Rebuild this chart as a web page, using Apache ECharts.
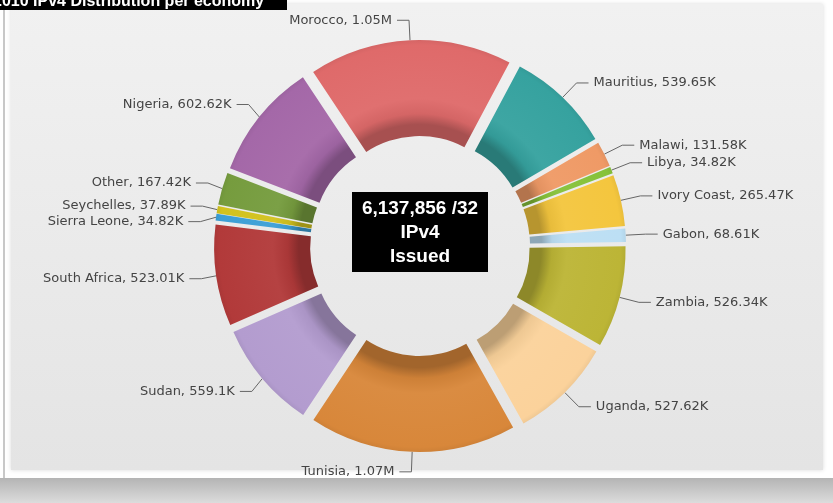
<!DOCTYPE html>
<html>
<head>
<meta charset="utf-8">
<script src="https://cdn.jsdelivr.net/npm/echarts@6/dist/echarts.min.js"></script>
<style>
  html, body { margin: 0; padding: 0; background: #ffffff; }
  #chart { width: 833px; height: 503px; }
</style>
</head>
<body>
<div id="chart"></div>
<script>
// data in thousands, alphabetical order (drawn counter-clockwise)
var economies = ['Gabon', 'Ivory Coast', 'Libya', 'Malawi', 'Mauritius', 'Morocco', 'Nigeria', 'Other',
  'Seychelles', 'Sierra Leone', 'South Africa', 'Sudan', 'Tunisia', 'Uganda', 'Zambia'];
var issued = [68.61, 265.47, 34.82, 131.58, 539.65, 1050, 602.62, 167.42,
  37.89, 34.82, 523.01, 559.1, 1070, 527.62, 526.34];
var colors = ['#bcdff4', '#f4c63e', '#86c23a', '#ef9a66', '#36a29f', '#df6a6a', '#a468a8', '#769c3e',
  '#d2c21e', '#3c9fd6', '#b23a3a', '#b39ccf', '#d8873a', '#fbd29b', '#bcb536'];
var centerText = '6,137,856 /32\nIPv4\nIssued';
var titleText = '2010 IPv4 Distribution per economy';

var cx = 420, cy = 246;

function shade(hex, f) {
  var n = parseInt(hex.slice(1), 16);
  var r = (n >> 16) & 255, g = (n >> 8) & 255, b = n & 255;
  function c(v) { return Math.max(0, Math.min(255, Math.round(f < 0 ? v * (1 + f) : v + (255 - v) * f))); }
  return 'rgb(' + c(r) + ',' + c(g) + ',' + c(b) + ')';
}

function fmt(v) {
  if (v >= 1000) return parseFloat((v / 1000).toFixed(2)) + 'M';
  return parseFloat(v.toFixed(2)) + 'K';
}

var pieData = economies.map(function (name, i) {
  var base = colors[i];
  return {
    name: name,
    value: issued[i],
    selected: true,
    itemStyle: {
      color: {
        type: 'radial', x: cx, y: cy, r: 215, global: true,
        colorStops: [
          { offset: 0.5, color: shade(base, -0.25) },
          { offset: 0.55, color: shade(base, -0.05) },
          { offset: 0.62, color: shade(base, 0.04) },
          { offset: 0.87, color: base },
          { offset: 0.97, color: shade(base, -0.2) },
          { offset: 1, color: shade(base, -0.3) }
        ]
      }
    }
  };
});

var myChart = echarts.init(document.getElementById('chart'));
myChart.setOption({
  animation: false,
  graphic: [
    // outer frame
    { type: 'rect', shape: { x: 0, y: 478, width: 833, height: 25 },
      style: { fill: { type: 'linear', x: 0, y: 0, x2: 0, y2: 1,
        colorStops: [{ offset: 0, color: '#b4b4b4' }, { offset: 1, color: '#dcdcdc' }] } } },
    { type: 'rect', shape: { x: 3, y: 0, width: 2, height: 478 }, style: { fill: '#c8c8c8' } },
    { type: 'rect', shape: { x: 11, y: 4, width: 812, height: 466 },
      style: { fill: { type: 'linear', x: 0, y: 0, x2: 0, y2: 1,
        colorStops: [{ offset: 0, color: '#f1f1f1' }, { offset: 1, color: '#e4e4e4' }] },
        shadowBlur: 4, shadowColor: 'rgba(0,0,0,0.15)' } },
    // cut-off title
    { type: 'rect', shape: { x: 0, y: 0, width: 287, height: 10 },
      style: { fill: '#000' }, z: 10 },
    { type: 'text', x: -7, y: 10, z: 11,
      style: { text: titleText, fill: '#fff', font: 'bold 16px "Liberation Sans", Arial',
        verticalAlign: 'bottom' } },
    // centre box
    { type: 'rect', shape: { x: 352, y: 192, width: 136, height: 80 },
      style: { fill: '#000' }, z: 10 },
    { type: 'text', x: 420, y: 233, z: 11,
      style: { text: centerText, fill: '#fff', font: 'bold 19px "Liberation Sans", Arial',
        align: 'center', verticalAlign: 'middle', lineHeight: 24 } }
  ],
  series: [{
    type: 'pie',
    center: [cx, cy],
    radius: [96, 192],
    startAngle: 1,
    clockwise: false,
    selectedMode: 'multiple',
    selectedOffset: 14,
    avoidLabelOverlap: true,
    label: {
      color: '#444',
      fontFamily: 'DejaVu Sans',
      fontSize: 13,
      formatter: function (p) { return p.name + ', ' + fmt(p.value); }
    },
    labelLine: { length: 20, length2: 12, lineStyle: { color: '#666', width: 1 } },
    emphasis: { disabled: true },
    select: { itemStyle: {} },
    data: pieData
  }]
});
</script>
</body>
</html>
